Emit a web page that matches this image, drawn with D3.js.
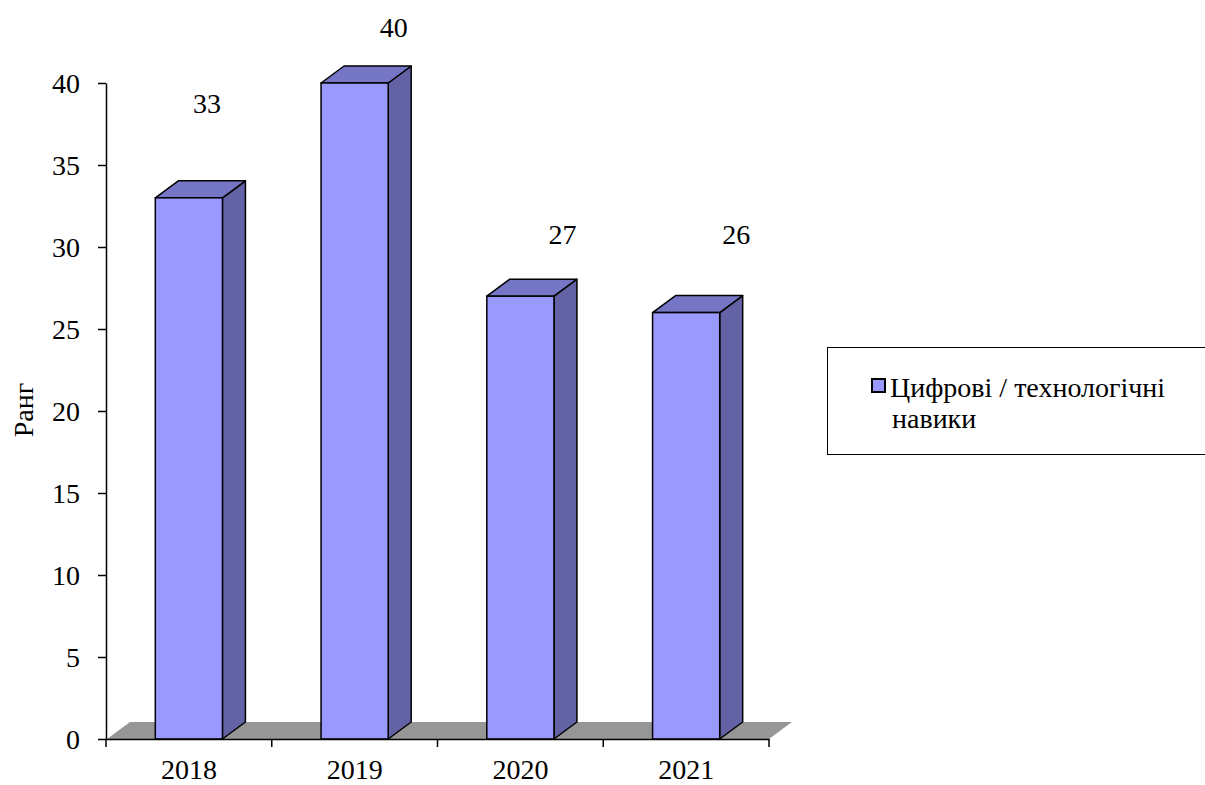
<!DOCTYPE html>
<html>
<head>
<meta charset="utf-8">
<script src="https://cdn.jsdelivr.net/npm/d3@7"></script>
<style>
  body { margin: 0; background: #fff; }
</style>
</head>
<body>
<div id="chart"></div>
<script>
// Data
const years = ["2018", "2019", "2020", "2021"];
const ranks = [33, 40, 27, 26];
const yTicks = [0, 5, 10, 15, 20, 25, 30, 35, 40];
const seriesName = ["Цифрові / технологічні", "навики"];
const axisTitle = "Ранг";

// Layout
const width = 1205, height = 785;
const plot = { left: 106, right: 769, top: 83, bottom: 739 };
const depth = { dx: 23, dy: -17 };
const colors = { front: "#9999ff", top: "#7676c6", side: "#6262a4", floor: "#969696" };

// pick the first serif family that is really installed
function pickFont(list) {
    const ctx = document.createElement("canvas").getContext("2d");
    const probe = "Ранг 2018 mmmWWWiii";
    const w = f => { ctx.font = "40px " + f; return ctx.measureText(probe).width; };
    const base = [w("monospace"), w("sans-serif")];
    for (const f of list) {
        const a = w(`'${f}', monospace`), b = w(`'${f}', sans-serif`);
        if (a === b && a !== base[0]) return `'${f}', serif`;
    }
    return "serif";
}
const serif = pickFont(["Liberation Serif", "Times New Roman", "Tinos", "Nimbus Roman", "DejaVu Serif", "Noto Serif"]);

// label anchors (value units) where Excel put the data labels
const labelAt = [38.2, 42.8, 30.2, 30.2];
const labelShift = [18, 39, 42, 50];

const svg = d3.select("#chart")
    .append("svg")
    .attr("width", width)
    .attr("height", height)
    .style("font-family", serif);

const x = d3.scaleBand()
    .domain(years)
    .range([plot.left, plot.right])
    .paddingInner(0.595)
    .paddingOuter(0.2975);

const y = d3.scaleLinear()
    .domain([0, 40])
    .range([plot.bottom, plot.top]);

// Floor
const fl = plot.left + 1, fr = plot.right, fb = plot.bottom;
svg.append("path")
    .attr("d", `M${fl},${fb} L${fl + depth.dx},${fb + depth.dy} L${fr + depth.dx},${fb + depth.dy} L${fr},${fb} Z`)
    .attr("fill", colors.floor);

// Bars (3D)
const bars = svg.selectAll("g.bar")
    .data(years.map((d, i) => ({ year: d, value: ranks[i], i })))
    .enter()
    .append("g")
    .attr("class", "bar");

bars.each(function (d) {
    const g = d3.select(this);
    const x0 = x(d.year), x1 = x0 + x.bandwidth();
    const yt = y(d.value), yb = y(0);
    const { dx, dy } = depth;
    g.append("path")
        .attr("d", `M${x1},${yt} L${x1 + dx},${yt + dy} L${x1 + dx},${yb + dy} L${x1},${yb} Z`)
        .attr("fill", colors.side).attr("stroke", "#000").attr("stroke-width", 1.5).attr("stroke-linejoin", "round");
    g.append("path")
        .attr("d", `M${x0},${yt} L${x0 + dx},${yt + dy} L${x1 + dx},${yt + dy} L${x1},${yt} Z`)
        .attr("fill", colors.top).attr("stroke", "#000").attr("stroke-width", 1.5).attr("stroke-linejoin", "round");
    g.append("rect")
        .attr("x", x0).attr("y", yt)
        .attr("width", x.bandwidth()).attr("height", yb - yt)
        .attr("fill", colors.front).attr("stroke", "#000").attr("stroke-width", 1.5);
});

// Data labels
svg.selectAll("text.val")
    .data(ranks)
    .enter()
    .append("text")
    .attr("class", "val")
    .attr("x", (d, i) => x(years[i]) + x.bandwidth() / 2 + labelShift[i])
    .attr("y", (d, i) => y(labelAt[i]))
    .attr("text-anchor", "middle")
    .style("font-size", "28px")
    .text(d => d);

// Y axis
const yAxis = svg.append("g")
    .attr("transform", `translate(${plot.left},0)`)
    .call(d3.axisLeft(y).tickValues(yTicks).tickSize(8).tickPadding(18).tickSizeOuter(0))
    .attr("font-family", null);
yAxis.select(".domain").attr("stroke", "#000").attr("stroke-width", 1.5);
yAxis.selectAll(".tick line").attr("stroke", "#000").attr("stroke-width", 1.5);
yAxis.selectAll(".tick text")
    .style("font-size", "28px")
    .attr("dy", "0.35em");

// X axis
const xAxis = svg.append("g")
    .attr("transform", `translate(0,${plot.bottom})`)
    .call(d3.axisBottom(x).tickSize(0).tickPadding(20))
    .attr("font-family", null);
xAxis.select(".domain").attr("stroke", "#000").attr("stroke-width", 1.5);
xAxis.selectAll(".tick text")
    .style("font-size", "28px");
// category boundary ticks
const bounds = years.map(d => x(d) - x.step() * x.paddingInner() / 2).concat([plot.right]);
bounds[0] = plot.left;
xAxis.selectAll("line.bound")
    .data(bounds)
    .enter()
    .append("line")
    .attr("class", "bound")
    .attr("x1", d => d).attr("x2", d => d)
    .attr("y1", 0).attr("y2", 8)
    .attr("stroke", "#000").attr("stroke-width", 1.5);

// Y title
svg.append("text")
    .attr("transform", `translate(33,${(plot.top + plot.bottom) / 2 - 1}) rotate(-90)`)
    .attr("text-anchor", "middle")
    .style("font-size", "28px")
    .text(axisTitle);

// Legend
const legend = svg.append("g");
legend.append("rect")
    .attr("x", 827.5).attr("y", 347.5)
    .attr("width", 420).attr("height", 107)
    .attr("fill", "#fff").attr("stroke", "#000").attr("stroke-width", 1);
legend.append("rect")
    .attr("x", 872).attr("y", 379)
    .attr("width", 13).attr("height", 13)
    .attr("fill", colors.front).attr("stroke", "#000").attr("stroke-width", 2);
legend.selectAll("text.leg")
    .data(seriesName)
    .enter()
    .append("text")
    .attr("class", "leg")
    .attr("x", (d, i) => i === 0 ? 890 : 892)
    .attr("y", (d, i) => 397 + i * 31)
    .style("font-size", "28px")
    .text(d => d);
</script>
</body>
</html>
